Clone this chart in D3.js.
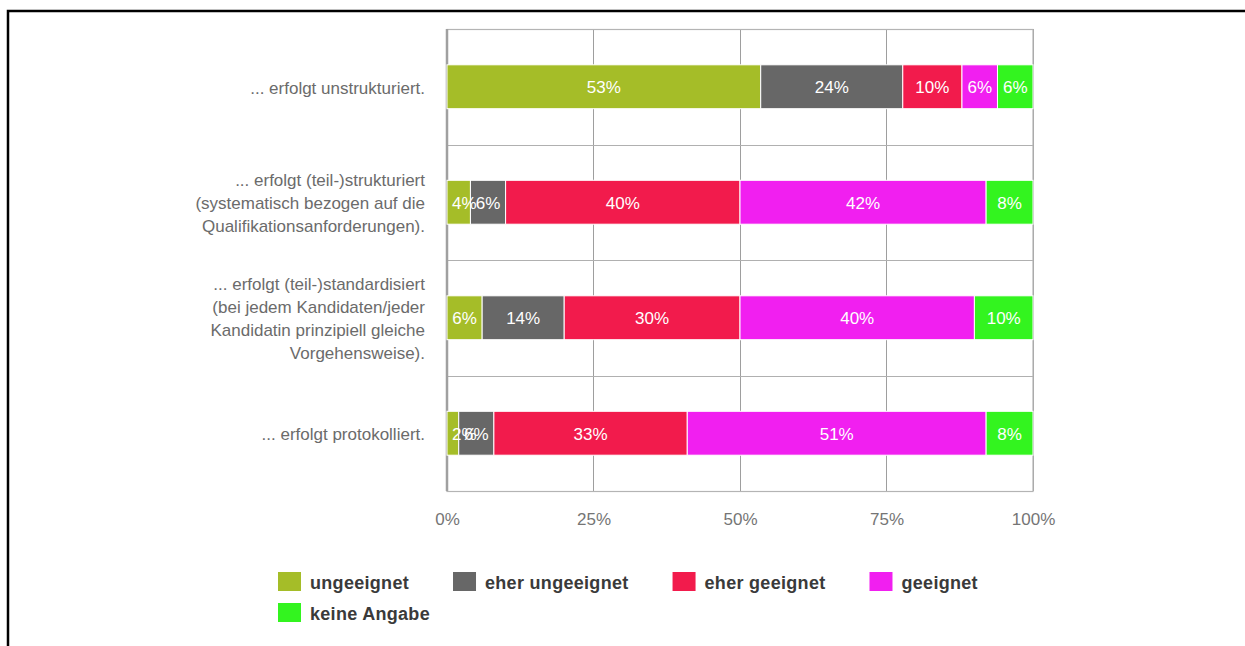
<!DOCTYPE html>
<html>
<head>
<meta charset="utf-8">
<script src="https://cdn.jsdelivr.net/npm/d3@7"></script>
<style>
  html, body { margin: 0; padding: 0; background: #fff; }
  svg { display: block; font-family: "Liberation Sans", Arial, sans-serif; }
</style>
</head>
<body>
<svg id="chart" width="1245" height="646"></svg>
<script>
// Survey rows (one per statement), lines of each row label
const categories = [
  ["... erfolgt unstrukturiert."],
  ["... erfolgt (teil-)strukturiert", "(systematisch bezogen auf die", "Qualifikationsanforderungen)."],
  ["... erfolgt (teil-)standardisiert", "(bei jedem Kandidaten/jeder", "Kandidatin prinzipiell gleiche", "Vorgehensweise)."],
  ["... erfolgt protokolliert."]
];

// Answer categories and their shares in percent, per row
const seriesNames = ["ungeeignet", "eher ungeeignet", "eher geeignet", "geeignet", "keine Angabe"];
const ungeeignet     = [53, 4, 6, 2];
const eherUngeeignet = [24, 6, 14, 6];
const eherGeeignet   = [10, 40, 30, 33];
const geeignet       = [6, 42, 40, 51];
const keineAngabe    = [6, 8, 10, 8];
const seriesColors = ["#a5bd28", "#676767", "#f21b4c", "#f11ff0", "#33f41f"];

const tickValues = [0, 0.25, 0.5, 0.75, 1];
const tickLabels = ["0%", "25%", "50%", "75%", "100%"];

const seriesValues = [ungeeignet, eherUngeeignet, eherGeeignet, geeignet, keineAngabe];
const rows = categories.map((c, i) => {
  const r = { id: i };
  seriesNames.forEach((s, k) => { r[s] = seriesValues[k][i]; });
  return r;
});

const svg = d3.select("#chart");
const plot = { left: 447, right: 1033, top: 29, bottom: 491 };

// outer frame
svg.append("path")
  .attr("d", "M8,646V11H1245")
  .attr("fill", "none")
  .attr("stroke", "#000")
  .attr("stroke-width", 2.5);

const x = d3.scaleLinear().domain([0, 1]).range([plot.left, plot.right]);
const y = d3.scaleBand().domain(rows.map(r => r.id)).range([plot.top, plot.bottom]).padding(0);
const barH = y.bandwidth() * 0.38;

// grid
const grid = svg.append("g");
grid.selectAll("line.v").data(tickValues).join("line")
  .attr("x1", d => x(d)).attr("x2", d => x(d))
  .attr("y1", plot.top).attr("y2", plot.bottom)
  .attr("stroke", "#9e9e9e").attr("stroke-width", 1)
  .attr("shape-rendering", "crispEdges");
grid.selectAll("line.h").data(rows.slice(1)).join("line")
  .attr("x1", plot.left).attr("x2", plot.right)
  .attr("y1", d => Math.round(y(d.id)) + 0.5).attr("y2", d => Math.round(y(d.id)) + 0.5)
  .attr("stroke", "#b0b0b0").attr("stroke-width", 1);
grid.append("rect")
  .attr("x", plot.left).attr("y", plot.top + 0.5)
  .attr("width", plot.right - plot.left).attr("height", plot.bottom - plot.top)
  .attr("fill", "none").attr("stroke", "#b4b4b4").attr("stroke-width", 1.2);
grid.append("line")
  .attr("x1", plot.left).attr("x2", plot.left)
  .attr("y1", plot.top).attr("y2", plot.bottom)
  .attr("stroke", "#a0a0a0").attr("stroke-width", 2.5);

// stacked bars, normalised to 100 %
const stack = d3.stack().keys(seriesNames).offset(d3.stackOffsetExpand);
const layers = stack(rows);

const barsG = svg.append("g");
layers.forEach((layer, k) => {
  const g = barsG.append("g").attr("fill", seriesColors[k]);
  g.selectAll("rect").data(layer).join("rect")
    .attr("x", d => x(d[0]))
    .attr("y", d => y(d.data.id) + (y.bandwidth() - barH) / 2)
    .attr("width", d => x(d[1]) - x(d[0]))
    .attr("height", barH)
    .attr("stroke", "#fff").attr("stroke-width", 1);
});

// value labels (kept inside the plot on the left side)
const labelsG = svg.append("g")
  .attr("font-size", 17).attr("fill", "#fff");
layers.forEach((layer, k) => {
  layer.forEach(d => {
    const t = labelsG.append("text")
      .attr("text-anchor", "middle")
      .attr("dominant-baseline", "central")
      .attr("y", y(d.data.id) + y.bandwidth() / 2 + 1)
      .text(d.data[seriesNames[k]] + "%");
    const w = t.node().getComputedTextLength();
    let cx = (x(d[0]) + x(d[1])) / 2;
    cx = Math.max(cx, plot.left + 5 + w / 2);
    t.attr("x", cx);
  });
});

// row labels
const catG = svg.append("g")
  .attr("font-size", 17).attr("fill", "#6b6b6b").attr("text-anchor", "end");
const lineH = 23;
categories.forEach((lines, i) => {
  const cy = y(i) + y.bandwidth() / 2;
  const t = catG.append("text").attr("dominant-baseline", "central");
  lines.forEach((ln, j) => {
    t.append("tspan")
      .attr("x", 425)
      .attr("y", cy + (j - (lines.length - 1) / 2) * lineH + 1)
      .text(ln);
  });
});

// x axis tick labels
const axis = d3.axisBottom(x).tickValues(tickValues).tickFormat((d, i) => tickLabels[i]).tickSize(0).tickPadding(0);
const axG = svg.append("g").attr("transform", `translate(0,${plot.bottom + 25})`).call(axis);
axG.select(".domain").remove();
axG.selectAll("text")
  .attr("font-size", 17)
  .attr("font-family", "\"Liberation Sans\", Arial, sans-serif")
  .attr("fill", "#757575")
  .attr("dy", "0.2em")
  .attr("dominant-baseline", "central");

// legend
const legend = svg.append("g")
  .attr("font-size", 18).attr("font-weight", "bold")
  .attr("letter-spacing", 0.3).attr("fill", "#3a3a3a");
const legendRows = [seriesNames.slice(0, 4), seriesNames.slice(4)];
legendRows.forEach((names, r) => {
  let lx = 278;
  const cy = 581.5 + r * 31;
  names.forEach(name => {
    const k = seriesNames.indexOf(name);
    legend.append("rect")
      .attr("x", lx).attr("y", cy - 9.5)
      .attr("width", 23).attr("height", 19)
      .attr("fill", seriesColors[k]);
    const t = legend.append("text")
      .attr("x", lx + 32).attr("y", cy + 1)
      .attr("dominant-baseline", "central")
      .text(name);
    lx += 32 + t.node().getComputedTextLength() + 44;
  });
});
</script>
</body>
</html>
